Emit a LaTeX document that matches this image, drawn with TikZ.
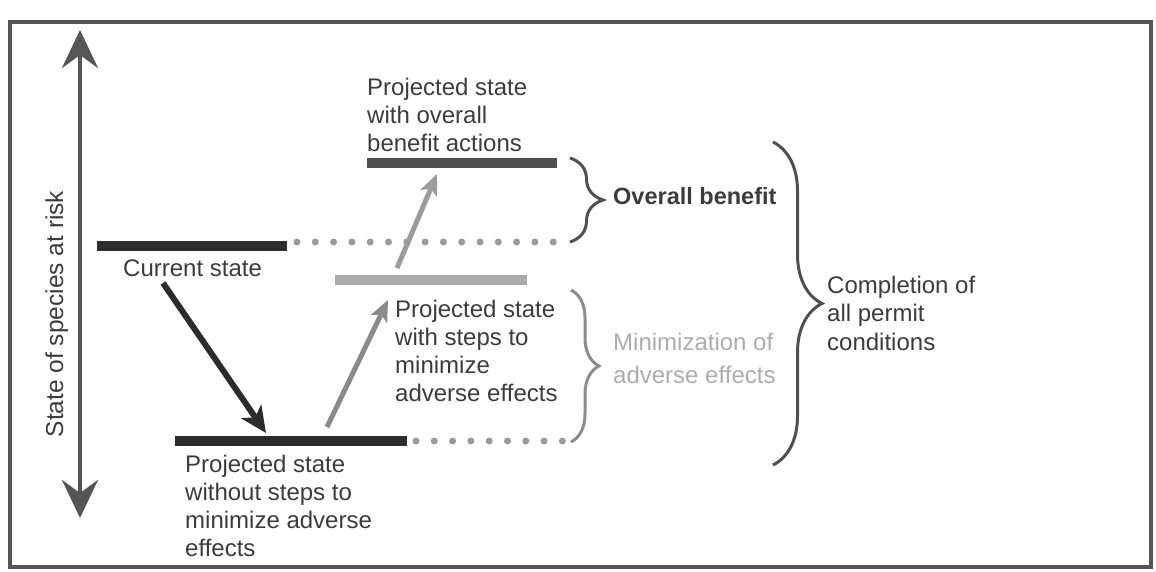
\documentclass[tikz,border=0pt]{standalone}
\usepackage{fontspec}
\setmainfont{Liberation Sans}
\usetikzlibrary{arrows.meta,decorations.pathreplacing}
\definecolor{txt}{HTML}{3C3C3C}
\definecolor{framec}{HTML}{555555}
\definecolor{darkbar}{HTML}{2C2C2C}
\definecolor{topbar}{HTML}{505050}
\definecolor{midbar}{HTML}{ABABAB}
\definecolor{dotc}{HTML}{9A9A9A}
\definecolor{arrA}{HTML}{8A8A8A}
\definecolor{arrB}{HTML}{9C9C9C}
\definecolor{brcc}{HTML}{505050}
\definecolor{brcl}{HTML}{8C8C8C}
\definecolor{minc}{HTML}{ADADAD}
\begin{document}
\begin{tikzpicture}[x=1pt,y=-1pt,
  lbl/.style={anchor=north west, inner sep=0pt, align=left, text=txt, font=\fontsize{24}{28.3}\selectfont},
  bar/.style={line width=10pt},
  dotline/.style={line width=7pt, line cap=round, dash pattern=on 0pt off 18.3pt, draw=dotc},
  brc/.style={decorate, decoration={brace,amplitude=#1}, line width=3pt},
  bigarrow/.style={line width=6pt, -{Stealth[length=26pt,width=24pt,inset=7pt]}},
  midarrow/.style={line width=5pt, -{Stealth[length=21pt,width=18pt,inset=5pt]}},
]
\useasboundingbox (0,0) rectangle (1156,572);
% frame
\draw[framec, line width=4pt] (10,22) rectangle (1151,567);

% vertical axis
\coordinate (axt) at (80,30);
\coordinate (axb) at (80,518);
\draw[line width=4.5pt, draw=framec, {Stealth[length=38pt,width=36pt,inset=13pt]}-{Stealth[length=38pt,width=36pt,inset=13pt]}] (axb) -- (axt);
\node[anchor=base, rotate=90, text=txt, font=\fontsize{24.5}{28.3}\selectfont] (ylab) at (63,314) {State of species at risk};

% bars
\coordinate (curL) at (97,246);  \coordinate (curR) at (287,246);
\coordinate (topL) at (367,163); \coordinate (topR) at (557,163);
\coordinate (midL) at (335,280); \coordinate (midR) at (527,280);
\coordinate (botL) at (175,441); \coordinate (botR) at (407,441);
\draw[bar, darkbar] (curL) -- (curR);
\draw[bar, topbar] (topL) -- (topR);
\draw[bar, midbar] (midL) -- (midR);
\draw[bar, darkbar] (botL) -- (botR);

% dotted extensions
\coordinate (d1s) at (297,242); \coordinate (d1e) at (558,242);
\coordinate (d2s) at (416,441); \coordinate (d2e) at (565,441);
\draw[dotline] (d1s) -- (d1e);
\draw[dotline] (d2s) -- (d2e);

% arrows
\coordinate (a1s) at (163,283); \coordinate (a1e) at (266,433);
\coordinate (a2s) at (327,427); \coordinate (a2e) at (388,300);
\coordinate (a3s) at (397,268); \coordinate (a3e) at (437,174);
\draw[bigarrow, darkbar] (a1s) -- (a1e);
\draw[midarrow, arrA] (a2s) -- (a2e);
\draw[midarrow, arrB] (a3s) -- (a3e);

% labels
\node[lbl] (tCur) at (123,259.5) {Current state};
\node[lbl] (tTop) at (367,77.5) {Projected state\\with overall\\benefit actions};
\node[lbl] (tMid) at (395,299.5) {Projected state\\with steps to\\minimize\\adverse effects};
\node[lbl] (tBot) at (185,454.5) {Projected state\\without steps to\\minimize adverse\\effects};

% braces
\coordinate (b1t) at (570,158); \coordinate (b1b) at (570,242);
\coordinate (b2t) at (571,290); \coordinate (b2b) at (571,442);
\coordinate (b3t) at (773,142); \coordinate (b3b) at (773,465);
\draw[brc=33, draw=brcc] (b1t) -- (b1b);
\draw[brc=28, draw=brcl] (b2t) -- (b2b);
\draw[brc=49, draw=brcc] (b3t) -- (b3b);

\node[lbl, font=\bfseries\fontsize{23.5}{28.3}\selectfont] (tOB) at (613,187.5) {Overall benefit};
\node[lbl, text=minc, font=\fontsize{24}{33}\selectfont] (tMin) at (613,332.5) {Minimization of\\adverse effects};
\node[lbl, font=\fontsize{24}{28.5}\selectfont] (tComp) at (827,275.5) {Completion of\\all permit\\conditions};
\end{tikzpicture}
\end{document}
